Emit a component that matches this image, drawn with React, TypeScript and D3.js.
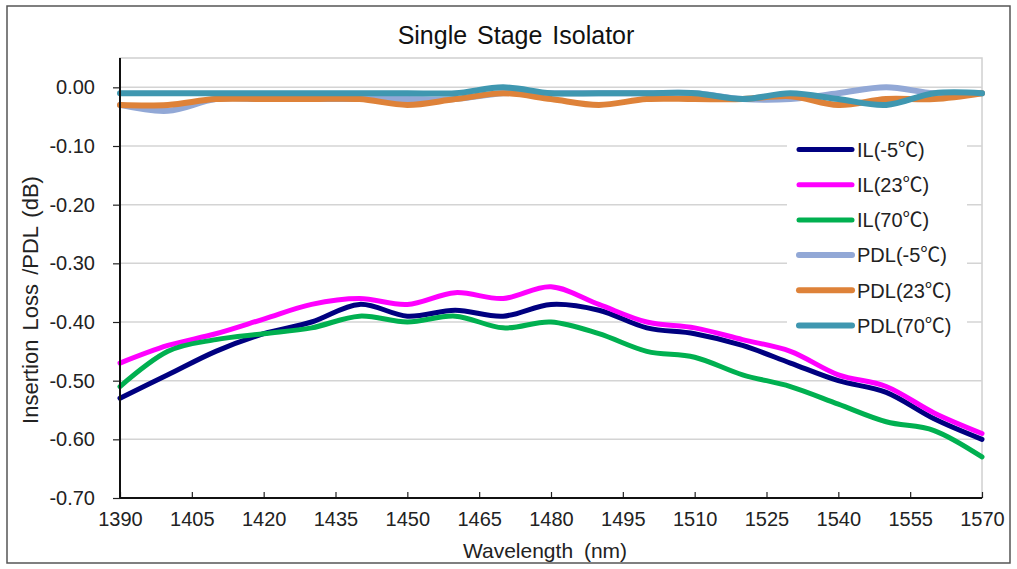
import * as d3 from "d3";
import { useEffect, useRef } from "react";

const wavelengths = [1390, 1400, 1410, 1420, 1430, 1440, 1450, 1460, 1470, 1480, 1490, 1500, 1510, 1520, 1530, 1540, 1550, 1560, 1570];

const ilMinus5 = [-0.53, -0.49, -0.45, -0.42, -0.40, -0.37, -0.39, -0.38, -0.39, -0.37, -0.38, -0.41, -0.42, -0.44, -0.47, -0.50, -0.52, -0.565, -0.60];
const il23 = [-0.47, -0.44, -0.42, -0.395, -0.37, -0.36, -0.37, -0.35, -0.36, -0.34, -0.37, -0.40, -0.41, -0.43, -0.45, -0.49, -0.51, -0.555, -0.59];
const il70 = [-0.51, -0.45, -0.43, -0.42, -0.41, -0.39, -0.40, -0.39, -0.41, -0.40, -0.42, -0.45, -0.46, -0.49, -0.51, -0.54, -0.57, -0.585, -0.63];
const pdlMinus5 = [-0.03, -0.04, -0.02, -0.02, -0.02, -0.02, -0.02, -0.02, -0.01, -0.01, -0.01, -0.01, -0.01, -0.02, -0.02, -0.01, 0.0, -0.01, -0.01];
const pdl23 = [-0.03, -0.03, -0.02, -0.02, -0.02, -0.02, -0.03, -0.02, -0.01, -0.02, -0.03, -0.02, -0.02, -0.02, -0.015, -0.03, -0.02, -0.02, -0.01];
const pdl70 = [-0.01, -0.01, -0.01, -0.01, -0.01, -0.01, -0.01, -0.01, 0.0, -0.01, -0.01, -0.01, -0.01, -0.02, -0.01, -0.02, -0.03, -0.01, -0.01];

const seriesNames = ["IL(-5℃)", "IL(23℃)", "IL(70℃)", "PDL(-5℃)", "PDL(23℃)", "PDL(70℃)"];
const seriesValues = [ilMinus5, il23, il70, pdlMinus5, pdl23, pdl70];
const seriesColors = ["#000080", "#ff00ff", "#00b050", "#92a8d6", "#de8239", "#3f97b0"];
const seriesWidths = [5, 5, 5, 6, 6, 6];

const xTicks = d3.range(1390, 1571, 15);
const yTicks = [0, -0.1, -0.2, -0.3, -0.4, -0.5, -0.6, -0.7];

const FONT = "'Liberation Sans', Arial, 'Noto Sans CJK JP', sans-serif";

export default function App() {
  const ref = useRef<SVGSVGElement>(null);

  useEffect(() => {
    document.body.style.margin = "0";
    const width = 1017;
    const height = 569;
    const left = 120, right = 982, top = 58, bottom = 498;

    const svg = d3.select(ref.current);
    svg.selectAll("*").remove();
    svg.attr("width", width).attr("height", height).style("font-family", FONT);

    const x = d3.scaleLinear().domain([1390, 1570]).range([left, right]);
    const y = d3.scaleLinear().domain([-0.7, 0.05]).range([bottom, top]);
    const fmt = (d: number) => d3.format(".2f")(d).replace("−", "-");

    svg.append("rect")
      .attr("x", 7).attr("y", 6).attr("width", 1003).attr("height", 557)
      .attr("fill", "#fff").attr("stroke", "#555").attr("stroke-width", 1.5);

    // plot area border
    svg.append("rect")
      .attr("x", left).attr("y", top).attr("width", right - left).attr("height", bottom - top)
      .attr("fill", "none").attr("stroke", "#d0d0d0").attr("stroke-width", 1.5);

    // gridlines
    svg.append("g")
      .selectAll("line")
      .data(yTicks.slice(0, -1))
      .enter()
      .append("line")
      .attr("x1", left).attr("x2", right)
      .attr("y1", d => y(d)).attr("y2", d => y(d))
      .attr("stroke", "#d4d4d4").attr("stroke-width", 1.5);

    const line = d3.line<number>()
      .x((_, i) => x(wavelengths[i]))
      .y(d => y(d))
      .curve(d3.curveCardinal.tension(0));

    seriesValues.forEach((vals, i) => {
      svg.append("path")
        .datum(vals)
        .attr("d", line)
        .attr("fill", "none")
        .attr("stroke", seriesColors[i])
        .attr("stroke-width", seriesWidths[i])
        .attr("stroke-linejoin", "round")
        .attr("stroke-linecap", "round");
    });

    // axes
    const yAxis = svg.append("g")
      .attr("transform", `translate(${left},0)`)
      .call(d3.axisLeft(y).tickValues(yTicks).tickSize(7).tickPadding(18).tickFormat(d => fmt(+d)));
    yAxis.select(".domain").remove();
    yAxis.selectAll("text").attr("font-size", 20).attr("fill", "#222").style("font-family", FONT);
    yAxis.selectAll("line").attr("stroke", "#222").attr("stroke-width", 1.2);

    const xAxis = svg.append("g")
      .attr("transform", `translate(0,${bottom})`)
      .call(d3.axisBottom(x).tickValues(xTicks).tickSize(0).tickPadding(14).tickFormat(d3.format("d")));
    xAxis.select(".domain").remove();
    xAxis.selectAll("text").attr("font-size", 20).attr("fill", "#222").style("font-family", FONT);
    xAxis.selectAll(".tick")
      .append("line")
      .attr("y1", 0).attr("y2", -6)
      .attr("stroke", "#222").attr("stroke-width", 1.2);

    svg.append("line")
      .attr("x1", left).attr("x2", left).attr("y1", top).attr("y2", bottom)
      .attr("stroke", "#111").attr("stroke-width", 2);
    svg.append("line")
      .attr("x1", left).attr("x2", right).attr("y1", bottom).attr("y2", bottom)
      .attr("stroke", "#111").attr("stroke-width", 2);

    // legend
    const lg = svg.append("g");
    lg.append("rect")
      .attr("x", 787).attr("y", 132).attr("width", 180).attr("height", 208)
      .attr("fill", "#fff");
    seriesNames.forEach((name, i) => {
      const ly = 149.5 + i * 35.2;
      lg.append("line")
        .attr("x1", 799).attr("x2", 852).attr("y1", ly).attr("y2", ly)
        .attr("stroke", seriesColors[i]).attr("stroke-width", i < 3 ? 5 : 6)
        .attr("stroke-linecap", "round");
      lg.append("text")
        .attr("x", 857).attr("y", ly).attr("dy", "0.36em")
        .attr("font-size", 20).attr("fill", "#222")
        .text(name);
    });

    svg.append("text")
      .attr("x", 516).attr("y", 44)
      .attr("text-anchor", "middle").attr("font-size", 25).attr("fill", "#111")
      .attr("word-spacing", 3)
      .text("Single Stage Isolator");

    svg.append("text")
      .attr("x", 545).attr("y", 558)
      .attr("text-anchor", "middle").attr("font-size", 21).attr("fill", "#222")
      .attr("word-spacing", 5)
      .text("Wavelength (nm)");

    svg.append("text")
      .attr("transform", `translate(38,300) rotate(-90)`)
      .attr("text-anchor", "middle").attr("font-size", 22).attr("fill", "#222")
      .attr("word-spacing", 3)
      .text("Insertion Loss /PDL (dB)");
  }, []);

  return <svg ref={ref} style={{ display: "block" }} />;
}
